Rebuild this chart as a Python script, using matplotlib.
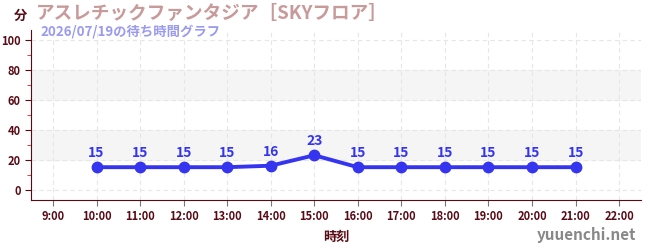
import matplotlib.pyplot as plt
from matplotlib.ticker import MultipleLocator

plt.rcParams['font.family'] = ['Noto Sans CJK JP', 'DejaVu Sans']

# data
hours = [10, 11, 12, 13, 14, 15, 16, 17, 18, 19, 20, 21]
waits = [15, 15, 15, 15, 16, 23, 15, 15, 15, 15, 15, 15]
tick_hours = list(range(9, 23))
tick_labels = ["%d:00" % h for h in tick_hours]

dark = "#5a0a14"
blue = "#3535f0"

fig = plt.figure(figsize=(6.5, 2.5), dpi=100)
ax = fig.add_axes([0.048, 0.2, 0.938, 0.68])

# shaded bands
for lo, hi in [(20, 40), (60, 80)]:
    ax.axhspan(lo, hi, color="#f5f5f5", zorder=0)

ax.plot(hours, waits, color=blue, lw=2.8, marker="o", ms=7.5, zorder=3)
for h, w in zip(hours, waits):
    ax.annotate(str(w), (h, w), xytext=(0, 5), textcoords="offset points",
                ha="center", va="bottom", color=blue, fontsize=10, fontweight="bold")

ax.set_xlim(8.5, 22.5)
ax.set_ylim(-7, 107)
ax.set_xticks(tick_hours)
ax.set_xticklabels(tick_labels)
ax.set_yticks(range(0, 101, 20))
ax.yaxis.set_minor_locator(MultipleLocator(10))
ax.tick_params(axis="y", which="minor", color="#dd2222", length=3)
ax.tick_params(axis="both", which="major", colors=dark, labelsize=8, length=4)
ax.tick_params(axis="x", which="major", color="#777777")
for lab in ax.get_xticklabels() + ax.get_yticklabels():
    lab.set_fontweight("bold")

ax.grid(True, which="major", color="#e6e6e6", ls=(0, (4, 3)), lw=0.8)
ax.set_axisbelow(True)
for s in ["top", "right"]:
    ax.spines[s].set_visible(False)
ax.spines["left"].set_color(dark)
ax.spines["bottom"].set_color(dark)

ax.set_xlabel("時刻", color=dark, fontsize=9.5, fontweight="bold", labelpad=5)

fig.text(0.022, 0.935, "分", color=dark, fontsize=9.5, fontweight="bold", ha="left", va="center")
fig.text(0.055, 0.945, "アスレチックファンタジア［SKYフロア］", color="#c89a9a",
         fontsize=13.4, fontweight="bold", ha="left", va="center")
fig.text(0.062, 0.875, "2026/07/19の待ち時間グラフ", color="#9a9af0",
         fontsize=9.6, fontweight="bold", ha="left", va="center")
fig.text(0.978, 0.06, "yuuenchi.net", color="#888888", fontsize=11,
         fontweight="bold", ha="right", va="center")

plt.savefig("out.png", dpi=100)
